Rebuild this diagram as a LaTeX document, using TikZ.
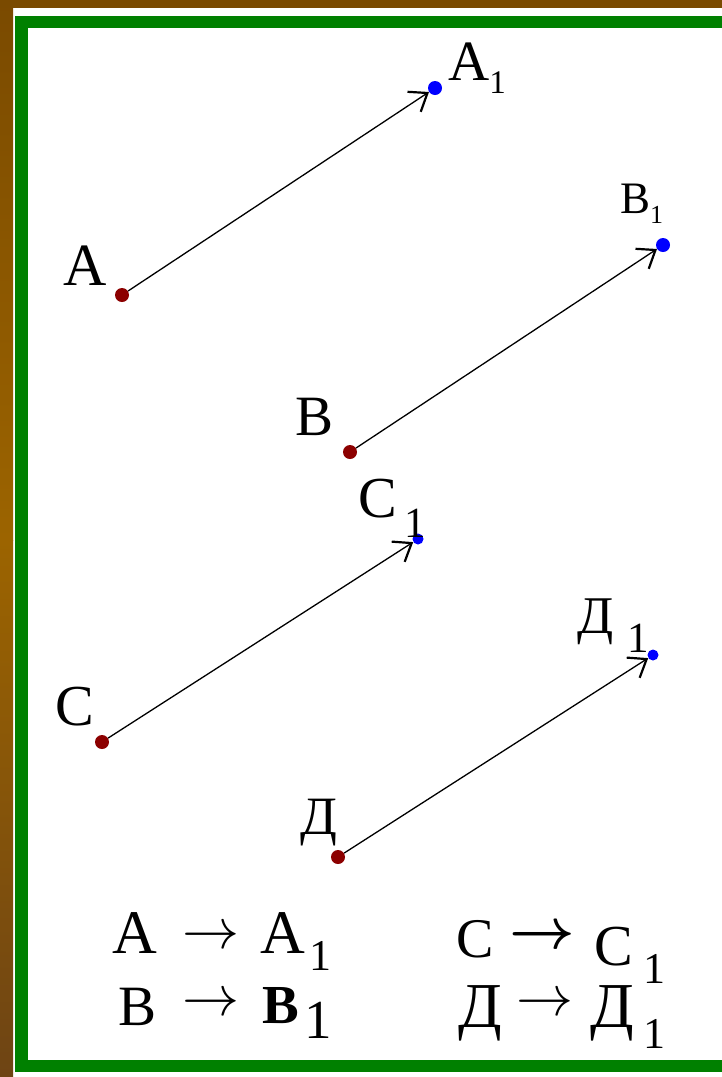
\documentclass[tikz,border=0pt]{standalone}
\usepackage{graphicx}
\usepackage{fontspec}
\setmainfont{Liberation Serif}
\usetikzlibrary{arrows.meta}
\newcommand\myfs[1]{\fontsize{#1}{#1}\selectfont}
\newcommand\bigarrow{\scalebox{5.7}{$\rightarrow$}}
\newcommand\bigboldarrow{\scalebox{5.7}{\boldmath$\rightarrow$}}
\definecolor{frameGreen}{RGB}{0,128,0}
\definecolor{dotRed}{RGB}{140,0,0}
\definecolor{dotBlue}{RGB}{0,0,255}
\definecolor{brownA}{RGB}{122,74,0}
\definecolor{brownB}{RGB}{156,100,0}
\definecolor{brownC}{RGB}{110,68,20}
\begin{document}
\begin{tikzpicture}[x=1pt,y=-1pt,
  reddot/.style={circle,fill=dotRed,inner sep=0pt,minimum size=14pt},
  bluedot/.style={circle,fill=dotBlue,inner sep=0pt,minimum size=14pt},
  smallblue/.style={circle,fill=dotBlue,inner sep=0pt,minimum size=11pt},
  vec/.style={line width=1.3pt,-{Straight Barb[length=16pt,width=24pt,line width=2.2pt]},shorten >=0pt},
  lbl/.style={anchor=base west,inner sep=0pt,text=black},
  arr/.style={anchor=center,inner sep=0pt,text=black}]
\useasboundingbox (0,0) rectangle (722,1077);
\fill[white] (0,0) rectangle (722,1077);
% brown background bands
\fill[brownA] (0,0) rectangle (722,8);
\shade[top color=brownA,bottom color=brownB] (0,0) rectangle (13,540);
\shade[top color=brownB,bottom color=brownC] (0,540) rectangle (13,1077);
% green frame
\draw[frameGreen,line width=12.5pt] (21.5,22) rectangle (728,1066);
% points
\node[reddot] (A) at (122,295) {};
\node[bluedot] (A1) at (435,88) {};
\node[reddot] (B) at (350,452) {};
\node[bluedot] (B1) at (663,245) {};
\node[reddot] (C) at (102,742) {};
\node[smallblue] (C1) at (418,539) {};
\node[reddot] (D) at (338,857) {};
\node[smallblue] (D1) at (653,655) {};
% vectors
\draw[vec] (A) -- (A1);
\draw[vec] (B) -- (B1);
\draw[vec] (C) -- (C1);
\draw[vec] (D) -- (D1);
% point labels
\node[lbl] (labA) at (63,285) {\myfs{60}A};
\node[lbl] (labA1) at (448,80) {\myfs{57}A\raisebox{-13pt}{\myfs{33}1}};
\node[lbl] (labB) at (295,435) {\myfs{57}B};
\node[lbl] (labB1) at (620,213) {\myfs{45}B\raisebox{-10pt}{\myfs{26}1}};
\node[lbl] (labC) at (55,725) {\myfs{58}C};
\node[lbl] (labC1) at (358,517) {\myfs{58}C\hspace{8pt}\raisebox{-20pt}{\myfs{43}1}};
\node[lbl] (labD) at (300,834) {\myfs{54}Д};
\node[lbl] (labD1) at (577,633) {\myfs{53}Д\hspace{14pt}\raisebox{-19pt}{\myfs{43}1}};
% legend
\node[lbl] (eA) at (112,953) {\myfs{62}A};
\node[arr] (eAarr) at (211,938) {\bigarrow};
\node[lbl] (eA1) at (260,953) {\myfs{62}A\hspace{5pt}\raisebox{-17pt}{\myfs{44}1}};
\node[lbl] (eB) at (118,1025) {\myfs{57}B};
\node[arr] (eBarr) at (211,1005) {\bigarrow};
\node[lbl] (eB1) at (262,1023) {\myfs{55}\bfseries B\hspace{6pt}\mdseries\raisebox{-15pt}{\myfs{55}1}};
\node[lbl] (eC) at (456,957) {\myfs{56}C};
\node[arr] (eCarr) at (542,937) {\bigboldarrow};
\node[lbl] (eC1) at (594,965) {\myfs{58}C\hspace{11pt}\raisebox{-18pt}{\myfs{44}1}};
\node[lbl] (eD) at (458,1027) {\myfs{64}Д};
\node[arr] (eDarr) at (545,1005) {\bigarrow};
\node[lbl] (eD1) at (590,1027) {\myfs{64}Д\hspace{10pt}\raisebox{-21pt}{\myfs{44}1}};
\end{tikzpicture}
\end{document}
